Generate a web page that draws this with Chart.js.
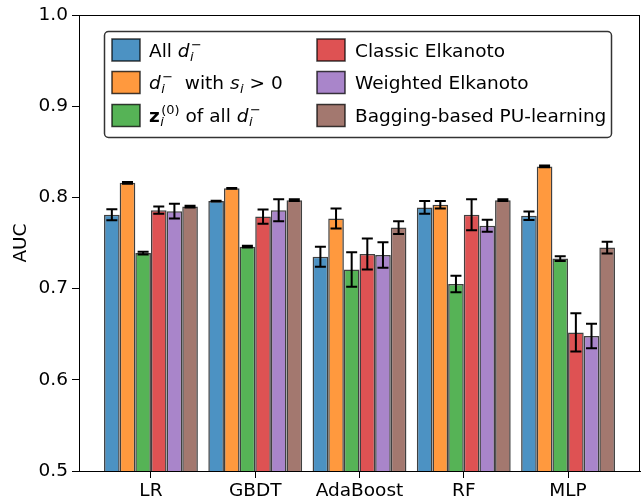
<!DOCTYPE html>
<html>
<head>
<meta charset="utf-8">
<script src="https://cdn.jsdelivr.net/npm/chart.js@4/dist/chart.umd.min.js"></script>
<style>
  body { margin: 0; background: #fff; }
  canvas { display: block; }
</style>
</head>
<body>
<canvas id="aucChart" width="641" height="502"></canvas>
<script>
var models = ['LR', 'GBDT', 'AdaBoost', 'RF', 'MLP']
var yTicks = [0.5, 0.6, 0.7, 0.8, 0.9, 1.0]

var allD = [0.781, 0.796, 0.735, 0.789, 0.780]
var allDErr = [0.006, 0.0005, 0.011, 0.007, 0.0046]
var posD = [0.816, 0.810, 0.777, 0.792, 0.834]
var posDErr = [0.001, 0.0005, 0.011, 0.004, 0.001]
var zAll = [0.739, 0.746, 0.721, 0.705, 0.733]
var zAllErr = [0.0015, 0.001, 0.019, 0.009, 0.0026]
var classic = [0.786, 0.779, 0.738, 0.781, 0.652]
var classicErr = [0.004, 0.0077, 0.017, 0.017, 0.021]
var weighted = [0.785, 0.786, 0.737, 0.769, 0.648]
var weightedErr = [0.008, 0.012, 0.014, 0.0065, 0.0135]
var bagging = [0.790, 0.797, 0.767, 0.797, 0.745]
var baggingErr = [0.001, 0.001, 0.007, 0.001, 0.0065]

var FONT = "'DejaVu Sans', sans-serif"
var FS = 18.5

// legend entries, rich text segments (n = normal, i = italic, b = bold)
var legendItems = [
  [{ t: 'All ' }, { t: 'd', s: 'i', sub: 'i', sup: '\u2212' }],
  [{ t: 'd', s: 'i', sub: 'i', sup: '\u2212' }, { t: '  with ' }, { t: 's', s: 'i', sub: 'i' }, { t: ' > 0' }],
  [{ t: 'z', s: 'b', sub: 'i', sup: '(0)' }, { t: ' of all ' }, { t: 'd', s: 'i', sub: 'i', sup: '\u2212' }],
  [{ t: 'Classic Elkanoto' }],
  [{ t: 'Weighted Elkanoto' }],
  [{ t: 'Bagging-based PU-learning' }]
]

function mk(values, errs, color) {
  return {
    data: values.map(function (v, i) { return { x: i, y: v } }),
    errs: errs,
    backgroundColor: color,
    borderColor: 'rgba(0,0,0,0.75)',
    borderWidth: 1.5,
    borderSkipped: false,
    categoryPercentage: 0.9,
    barPercentage: 1.0
  }
}

var datasets = [
  mk(allD, allDErr, 'rgba(31,119,180,0.8)'),
  mk(posD, posDErr, 'rgba(255,127,14,0.8)'),
  mk(zAll, zAllErr, 'rgba(44,160,44,0.8)'),
  mk(classic, classicErr, 'rgba(214,39,40,0.8)'),
  mk(weighted, weightedErr, 'rgba(148,103,189,0.8)'),
  mk(bagging, baggingErr, 'rgba(140,86,75,0.8)')
]

function fontFor(style, size) {
  if (style === 'i') return 'oblique ' + size + 'px ' + FONT
  if (style === 'b') return 'bold ' + size + 'px ' + FONT
  return size + 'px ' + FONT
}

function drawRich(ctx, x, y, segs) {
  var small = FS * 0.7
  segs.forEach(function (seg) {
    ctx.font = fontFor(seg.s, FS)
    ctx.fillText(seg.t, x, y)
    x += ctx.measureText(seg.t).width
    var adv = 0
    if (seg.sub) {
      ctx.font = fontFor('i', small)
      ctx.fillText(seg.sub, x + 0.5, y + 4)
      adv = Math.max(adv, ctx.measureText(seg.sub).width + 0.5)
    }
    if (seg.sup) {
      ctx.font = fontFor('n', small)
      ctx.fillText(seg.sup, x + 1.5, y - 8)
      adv = Math.max(adv, ctx.measureText(seg.sup).width + 1.5)
    }
    x += adv
  })
}

//-------------
//- PLUGINS -
//-------------
var errorBars = {
  id: 'errorBars',
  afterDatasetsDraw: function (chart) {
    var ctx = chart.ctx
    var yScale = chart.scales.y
    ctx.save()
    ctx.strokeStyle = '#000'
    ctx.lineWidth = 2
    chart.data.datasets.forEach(function (ds, di) {
      var meta = chart.getDatasetMeta(di)
      meta.data.forEach(function (bar, i) {
        var v = ds.data[i].y
        var e = ds.errs[i]
        var top = yScale.getPixelForValue(v + e)
        var bot = yScale.getPixelForValue(v - e)
        ctx.beginPath()
        ctx.moveTo(bar.x, top)
        ctx.lineTo(bar.x, bot)
        ctx.moveTo(bar.x - 5.5, top)
        ctx.lineTo(bar.x + 5.5, top)
        ctx.moveTo(bar.x - 5.5, bot)
        ctx.lineTo(bar.x + 5.5, bot)
        ctx.stroke()
      })
    })
    ctx.restore()
  },
  afterDraw: function (chart) {
    var ctx = chart.ctx
    var a = chart.chartArea
    ctx.save()
    // frame
    ctx.strokeStyle = '#000'
    ctx.lineWidth = 1
    ctx.strokeRect(Math.round(a.left) + 0.5, Math.round(a.top) + 0.5, Math.round(a.right - a.left) - 1, Math.round(a.bottom - a.top))

    // legend box
    var bx = 104.5, by = 31.5, bw = 507, bh = 106, r = 4
    ctx.beginPath()
    ctx.moveTo(bx + r, by)
    ctx.arcTo(bx + bw, by, bx + bw, by + bh, r)
    ctx.arcTo(bx + bw, by + bh, bx, by + bh, r)
    ctx.arcTo(bx, by + bh, bx, by, r)
    ctx.arcTo(bx, by, bx + bw, by, r)
    ctx.closePath()
    ctx.fillStyle = 'rgba(255,255,255,0.85)'
    ctx.fill()
    ctx.strokeStyle = 'rgba(0,0,0,0.8)'
    ctx.lineWidth = 1.5
    ctx.stroke()

    var rows = [50, 82.5, 115.5]
    legendItems.forEach(function (segs, k) {
      var col = Math.floor(k / 3)
      var cy = rows[k % 3]
      var sx = col === 0 ? 112 : 317
      var tx = col === 0 ? 149 : 355
      ctx.fillStyle = datasets[k].backgroundColor
      ctx.fillRect(sx, cy - 11, 28, 22)
      ctx.strokeStyle = 'rgba(0,0,0,0.75)'
      ctx.lineWidth = 1.5
      ctx.strokeRect(sx, cy - 11, 28, 22)
      ctx.fillStyle = '#000'
      ctx.textBaseline = 'alphabetic'
      ctx.textAlign = 'left'
      drawRich(ctx, tx, cy + 6.5, segs)
    })
    ctx.restore()
  }
}

//-------------
//- BAR CHART -
//-------------
var ctx = document.getElementById('aucChart').getContext('2d')
var aucChart = new Chart(ctx, {
  type: 'bar',
  data: { datasets: datasets },
  options: {
    responsive: false,
    animation: false,
    layout: { padding: { top: 13, right: 1, left: 0, bottom: 0 } },
    plugins: { legend: { display: false }, tooltip: { enabled: false } },
    scales: {
      x: {
        type: 'linear',
        offset: false,
        min: -0.69,
        max: 4.69,
        afterBuildTicks: function (scale) {
          scale.ticks = models.map(function (m, i) { return { value: i } })
        },
        afterFit: function (scale) { scale.height = 31 },
        grid: { display: true, offset: false, drawOnChartArea: false, drawTicks: true, tickLength: 7, color: '#000', lineWidth: 1 },
        border: { display: true, color: '#000', width: 1 },
        ticks: {
          autoSkip: false,
          maxRotation: 0,
          padding: 2,
          color: '#000',
          font: { family: FONT, size: FS },
          callback: function (v) { return models[v] }
        }
      },
      y: {
        min: 0.5,
        max: 1.0,
        afterBuildTicks: function (scale) {
          scale.ticks = yTicks.map(function (v) { return { value: v } })
        },
        afterFit: function (scale) { scale.width = 79 },
        grid: { display: true, drawOnChartArea: false, drawTicks: true, tickLength: 7, color: '#000', lineWidth: 1 },
        border: { display: true, color: '#000', width: 1 },
        title: { display: true, text: 'AUC', color: '#000', font: { family: FONT, size: FS }, padding: { top: 10, bottom: 0 } },
        ticks: {
          padding: 4,
          color: '#000',
          font: { family: FONT, size: FS },
          callback: function (v) { return v.toFixed(1) }
        }
      }
    }
  },
  plugins: [errorBars]
})
</script>
</body>
</html>
